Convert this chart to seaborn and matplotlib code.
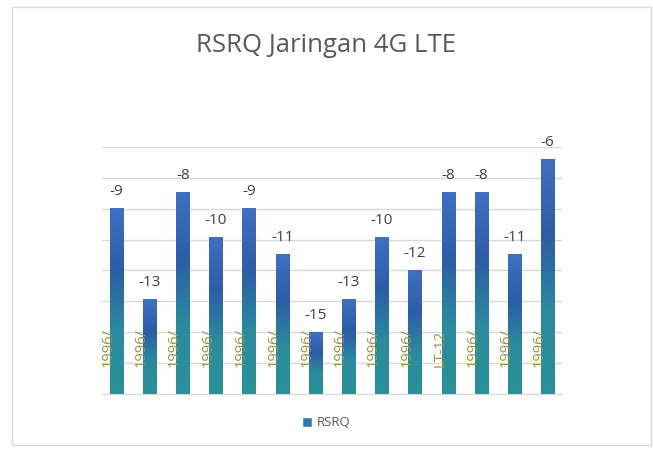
"""
RSRQ chart for the 4G LTE drive test
bar chart with seaborn + matplotlib
"""
import numpy as np
import pandas as pd
import seaborn as sns
import matplotlib.pyplot as plt
from matplotlib.patches import Patch, Rectangle
from matplotlib.colors import LinearSegmentedColormap

# values (dB), the printed labels are rounded
rsrq = [-9.0, -13.4, -8.2, -10.4, -9.0, -11.2, -15.0, -13.4, -10.4, -12.0, -8.2, -8.2, -11.2, -6.6]
value_labels = ["-9", "-13", "-8", "-10", "-9", "-11", "-15", "-13", "-10", "-12", "-8", "-8", "-11", "-6"]
categories = ["1996/", "1996/", "1996/", "1996/", "1996/", "1996/", "1996/",
              "1996/", "1996/", "1996/", "LT-12", "1996/", "1996/", "1996/"]

y_min = -18
y_max = -6
y_step = 1.5

df = pd.DataFrame({"titik": [str(i) for i in range(len(rsrq))], "RSRQ": rsrq})
# excel draws the bars up from the axis minimum
df["tinggi"] = df["RSRQ"] - y_min


def rsrqPlotter():
    sns.set_style("white")
    plt.rcParams['font.family'] = ['Open Sans', 'DejaVu Sans']

    fig = plt.figure(figsize=(6.53, 4.5), dpi=100)
    ax = fig.add_axes([0.156, 0.1244, 0.705, 0.549])

    sns.barplot(x="titik", y="tinggi", data=df, color="#3a6fbf", width=0.4, ax=ax)

    # gradient fill, blue on top and teal at the bottom
    cmap = LinearSegmentedColormap.from_list("rsrq", ["#2a9098", "#2b8b9e", "#2d5da6", "#3f70c2"])
    grad = np.linspace(0, 1, 256).reshape(-1, 1)
    for p in ax.patches:
        x0, y0 = p.get_x(), p.get_y()
        w, h = p.get_width(), p.get_height()
        ax.imshow(grad, extent=[x0, x0 + w, y0, y0 + h], origin="lower",
                  aspect="auto", cmap=cmap, zorder=2)
        p.set_visible(False)

    ax.set_xlim(-0.44, len(rsrq) - 1 + 0.44)
    ax.set_ylim(0, y_max - y_min)
    ax.set_yticks(np.arange(0, y_max - y_min + 0.01, y_step))
    ax.grid(axis="y", color="#d9d9d9", linewidth=1, zorder=0)
    ax.set_axisbelow(True)
    ax.set_yticklabels([])
    ax.set_xticks([])
    ax.tick_params(length=0)
    ax.set_xlabel("")
    ax.set_ylabel("")
    for s in ["top", "right", "left"]:
        ax.spines[s].set_visible(False)
    ax.spines["bottom"].set_color("#d9d9d9")

    # value labels above the bars
    for i, v in enumerate(df["tinggi"]):
        ax.text(i, v + 0.45, value_labels[i], ha="center", va="bottom",
                fontsize=11, color="#404040", zorder=4)

    # category labels, they sit on top of the bars
    for i, c in enumerate(categories):
        ax.text(i - 0.25, 1.3, c, rotation=90, ha="center", va="bottom",
                fontsize=10.5, color="#99963c", zorder=5)

    fig.text(0.5, 0.898, "RSRQ Jaringan 4G LTE", ha="center", va="center",
             fontsize=18.5, color="#595959")

    fig.legend(handles=[Patch(facecolor="#3579ac", label="RSRQ")], loc="center",
               bbox_to_anchor=(0.5, 0.06), frameon=False, fontsize=9.5,
               labelcolor="#595959", handlelength=0.7, handleheight=0.7,
               handletextpad=0.4)

    # chart border like in the document
    fig.patches.append(Rectangle((0.019, 0.011), 0.978, 0.973, transform=fig.transFigure,
                                 fill=False, edgecolor="#d9d9d9", linewidth=1))

    plt.savefig("out.png", dpi=100)
    return plt


rsrqPlotter()
